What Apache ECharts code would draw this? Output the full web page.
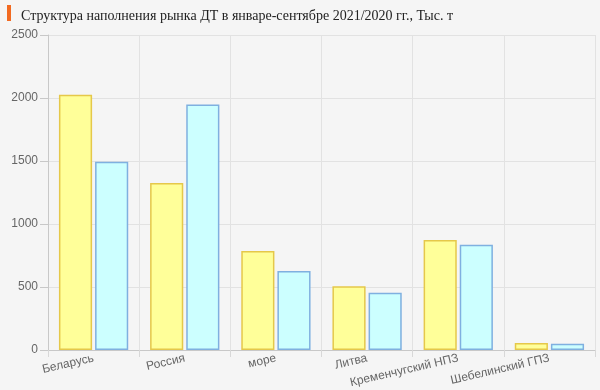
<!DOCTYPE html>
<html><head><meta charset="utf-8">
<script src="https://cdn.jsdelivr.net/npm/echarts@6/dist/echarts.min.js"></script>
<style>html,body{margin:0;padding:0;background:#f5f5f5;}#c{width:600px;height:390px;}</style>
</head><body><div id="c"></div>
<script>
const titleText = 'Структура наполнения рынка ДТ в январе-сентябре 2021/2020 гг., Тыс. т';
const categories = ['Беларусь','Россия','море','Литва','Кременчугский НПЗ','Шебелинский ГПЗ'];
const values2021 = [2025, 1325, 785, 505, 873, 55];
const values2020 = [1495, 1948, 627, 455, 836, 50];
const yTicks = [0, 500, 1000, 1500, 2000, 2500];

const chart = echarts.init(document.getElementById('c'), null, {renderer:'canvas'});
chart.setOption({
  backgroundColor: '#f5f5f5',
  animation: false,
  title: {
    text: titleText, left: 16, top: 4,
    textStyle: {fontFamily: 'Liberation Serif', fontSize: 14, fontWeight: 'normal', color: '#222'}
  },
  graphic: [{type:'rect', shape:{x:7, y:5, width:4, height:16}, style:{fill:'#f26a21'}}],
  grid: [
    {left: 48, right: 5, top: 35, bottom: 40, containLabel: false}
  ],
  xAxis: [
    {type:'category', gridIndex:0, data: categories,
     axisLine:{lineStyle:{color:'#c8c8c8'}},
     axisTick:{show:true, interval:0, length:7, lineStyle:{color:'#d8d8d8'}},
     axisLabel:{show:true, rotate:13, interval:0, margin:8, color:'#666', fontFamily:'Liberation Sans', fontSize:12},
     splitLine:{show:true, interval:0, lineStyle:{color:'#e2e2e2'}}}
  ],
  yAxis: [
    {type:'value', gridIndex:0, min:0, max:2500, interval:500,
     axisLine:{show:true, lineStyle:{color:'#c8c8c8'}},
     axisTick:{show:true, length:8, lineStyle:{color:'#c8c8c8'}},
     axisLabel:{color:'#666', fontFamily:'Liberation Sans', fontSize:12, margin:10,
       formatter: v => String(v)},
     splitLine:{show:true, lineStyle:{color:'#e2e2e2'}}}
  ],
  series: [
    {type:'bar', data: values2021, barCategoryGap:'24%', barGap:'9%',
     itemStyle:{color:'#ffff99', borderColor:'#e5c84a', borderWidth:1.5}},
    {type:'bar', data: values2020, barCategoryGap:'24%', barGap:'9%',
     itemStyle:{color:'#ccffff', borderColor:'#7fb0e0', borderWidth:1.5}}
  ]
});
</script></body></html>
